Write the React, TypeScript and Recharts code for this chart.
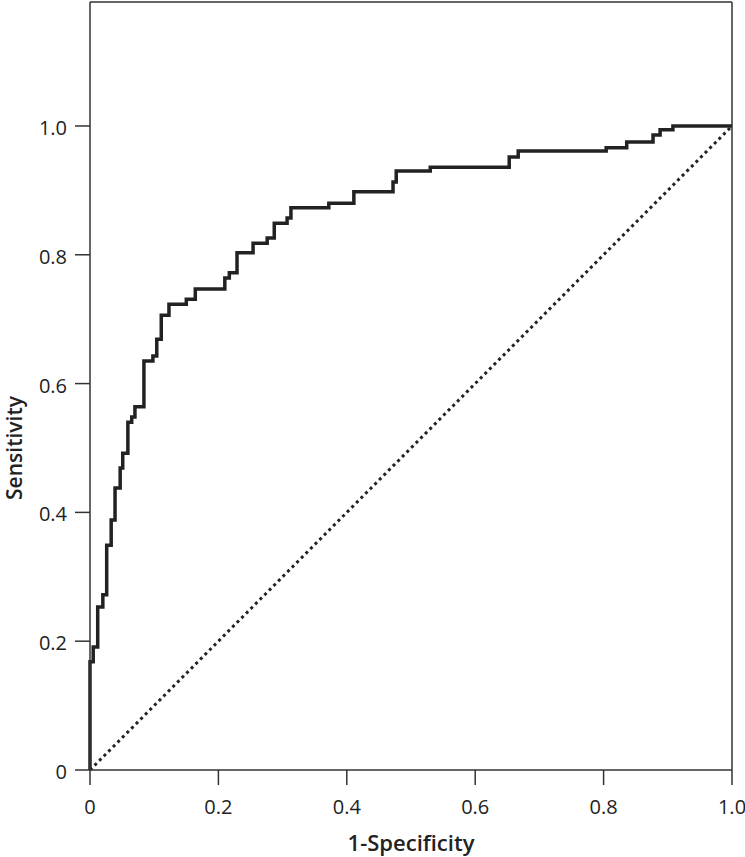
import { LineChart, Line, XAxis, YAxis, ReferenceLine } from "recharts";

const fpr = [
  0, 0, 0.005, 0.012, 0.02, 0.026, 0.033, 0.039, 0.047, 0.051, 0.059, 0.065, 0.07,
  0.084, 0.098, 0.104, 0.111, 0.123, 0.15, 0.164, 0.21, 0.217, 0.229, 0.254, 0.276,
  0.287, 0.307, 0.313, 0.372, 0.411, 0.472, 0.477, 0.53, 0.653, 0.667, 0.804, 0.836,
  0.877, 0.888, 0.908, 1.0,
];
const tpr = [
  0, 0.168, 0.191, 0.253, 0.272, 0.349, 0.388, 0.438, 0.469, 0.492, 0.54, 0.548, 0.564,
  0.635, 0.643, 0.669, 0.706, 0.723, 0.731, 0.747, 0.764, 0.772, 0.803, 0.818, 0.826,
  0.849, 0.857, 0.873, 0.88, 0.898, 0.913, 0.93, 0.936, 0.952, 0.961, 0.966, 0.975,
  0.986, 0.994, 1.0, 1.0,
];
const diagX = [0, 1];
const diagY = [0, 1];
const ticks = [0, 0.2, 0.4, 0.6, 0.8, 1.0];
const yMax = 1.1925;

const rocData = fpr.map((x, i) => ({ x, y: tpr[i] }));
const diagData = diagX.map((x, i) => ({ x, y: diagY[i] }));

const fmt = (v: number) => (v === 0 ? "0" : v.toFixed(1));
const font = "'Open Sans', sans-serif";
const axisColor = "#333";

const XTick = ({ x, y, payload }: any) => (
  <text x={x} y={y} dy={25} textAnchor="middle" fill="#222" fontSize={20} fontFamily={font}>
    {fmt(payload.value)}
  </text>
);
const YTick = ({ x, y, payload }: any) => (
  <text x={x} y={y} dy={9} textAnchor="end" fill="#222" fontSize={20} fontFamily={font}>
    {fmt(payload.value)}
  </text>
);

export default function App() {
  return (
    <div style={{ position: "absolute", left: 0, top: 0, background: "#fff" }}>
      <LineChart
        width={745}
        height={857}
        data={rocData}
        margin={{ top: 2, right: 13, left: 0, bottom: 0 }}
      >
        <XAxis
          type="number"
          dataKey="x"
          domain={[0, 1]}
          ticks={ticks}
          height={87}
          tickSize={15}
          tickMargin={4}
          stroke={axisColor}
          strokeWidth={1.5}
          tick={<XTick />}
          label={{
            value: "1-Specificity",
            position: "insideBottom",
            offset: 6,
            fill: "#222",
            fontSize: 22,
            fontWeight: 600,
            fontFamily: font,
          }}
        />
        <YAxis
          type="number"
          domain={[0, yMax]}
          ticks={ticks}
          width={90}
          tickSize={15}
          tickMargin={8}
          stroke={axisColor}
          strokeWidth={1.5}
          tick={<YTick />}
          label={() => (
            <text
              x={22}
              y={448}
              transform="rotate(-90 22 448)"
              textAnchor="middle"
              fill="#222"
              fontSize={21}
              fontWeight={600}
              fontFamily={font}
            >
              Sensitivity
            </text>
          )}
        />
        <ReferenceLine y={yMax} stroke={axisColor} strokeWidth={1.5} />
        <ReferenceLine x={1} stroke={axisColor} strokeWidth={1.5} />
        <Line
          data={diagData}
          dataKey="y"
          type="linear"
          stroke="#222"
          strokeWidth={3}
          strokeDasharray="3 3.5"
          dot={false}
          isAnimationActive={false}
        />
        <Line
          dataKey="y"
          type="stepAfter"
          stroke="#222"
          strokeWidth={3.5}
          dot={false}
          isAnimationActive={false}
        />
      </LineChart>
    </div>
  );
}
